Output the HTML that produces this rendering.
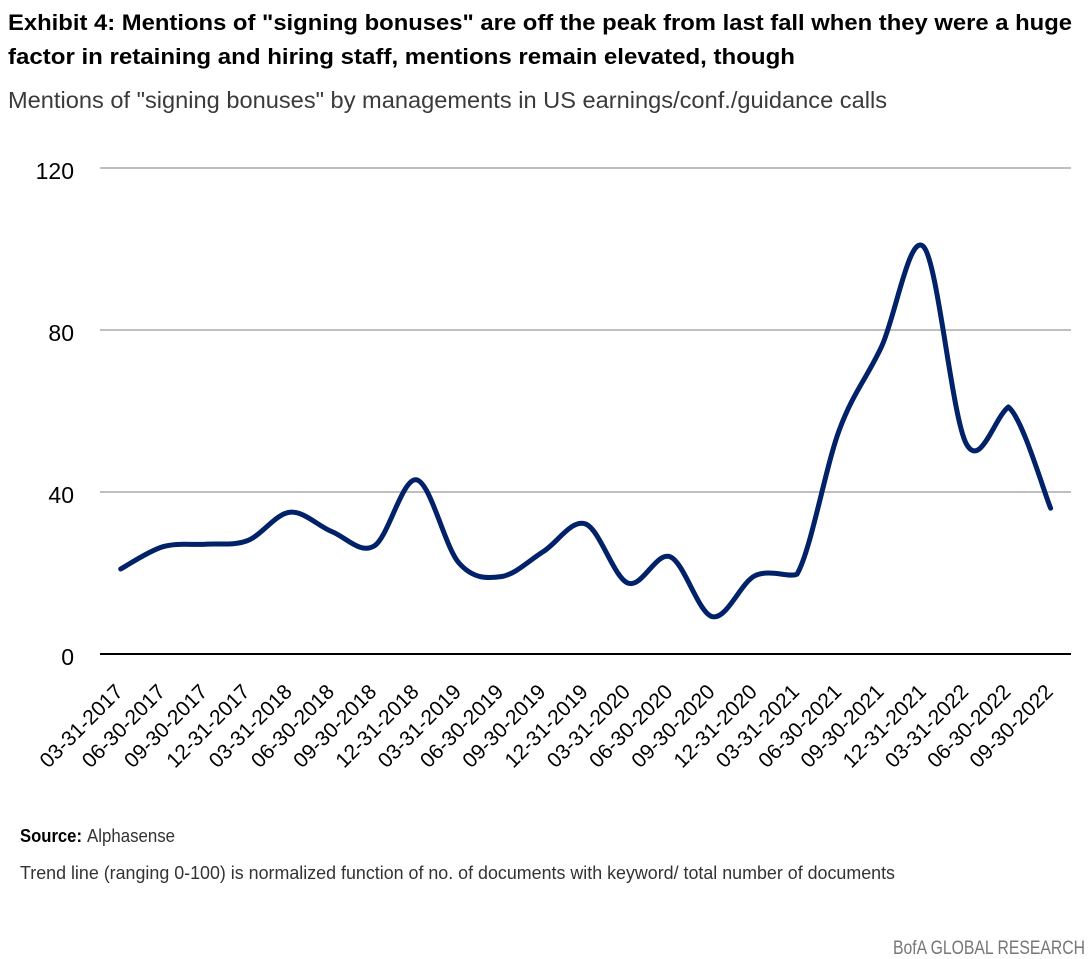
<!DOCTYPE html>
<html>
<head>
<meta charset="utf-8">
<style>
  html, body { margin: 0; padding: 0; background: #ffffff; }
  svg { display: block; }
  text { font-family: "Liberation Sans", Arial, sans-serif; }
</style>
</head>
<body>
<svg width="1090" height="959" viewBox="0 0 1090 959" xmlns="http://www.w3.org/2000/svg">
  <rect x="0" y="0" width="1090" height="959" fill="#ffffff"/>

  <!-- Titles -->
  <text x="8" y="30" font-size="22" font-weight="bold" fill="#000" textLength="1064" lengthAdjust="spacingAndGlyphs">Exhibit 4: Mentions of "signing bonuses" are off the peak from last fall when they were a huge</text>
  <text x="8" y="64" font-size="22" font-weight="bold" fill="#000" textLength="787" lengthAdjust="spacingAndGlyphs">factor in retaining and hiring staff, mentions remain elevated, though</text>
  <text x="8" y="108" font-size="23" fill="#3a3a3a" textLength="879" lengthAdjust="spacingAndGlyphs">Mentions of "signing bonuses" by managements in US earnings/conf./guidance calls</text>

  <!-- Gridlines -->
  <line x1="100" y1="168" x2="1071" y2="168" stroke="#bfbfbf" stroke-width="2"/>
  <line x1="100" y1="330" x2="1071" y2="330" stroke="#bfbfbf" stroke-width="2"/>
  <line x1="100" y1="492" x2="1071" y2="492" stroke="#bfbfbf" stroke-width="2"/>
  <!-- Axis -->
  <line x1="100" y1="654" x2="1071" y2="654" stroke="#000" stroke-width="2"/>

  <!-- Y labels -->
  <g font-size="23" fill="#000" text-anchor="end">
    <text x="74" y="179">120</text>
    <text x="74" y="341">80</text>
    <text x="74" y="503">40</text>
    <text x="74" y="665">0</text>
  </g>

  <!-- Series -->
  <path fill="none" stroke="#012169" stroke-width="5" stroke-linecap="round" stroke-linejoin="round"
    d="M120.7,568.95
       C127.75,565.24 148.88,550.83 162.97,546.7
       C177.06,542.58 191.15,545.22 205.24,544.2
       C219.33,543.18 233.42,545.93 247.51,540.6
       C261.6,535.28 275.69,513.73 289.78,512.25
       C303.87,510.77 317.96,526.09 332.05,531.7
       C346.14,537.31 360.23,554.54 374.32,545.9
       C388.41,537.26 402.5,477.02 416.59,479.85
       C430.68,482.68 444.77,546.78 458.86,562.9
       C472.95,579.03 487.04,578.5 501.13,576.6
       C515.22,574.7 529.31,560.27 543.4,551.5
       C557.49,542.73 571.58,518.73 585.67,524
       C599.76,529.27 613.85,577.63 627.94,583.1
       C642.03,588.57 656.12,551.2 670.21,556.8
       C684.3,562.4 698.39,613.53 712.48,616.7
       C726.57,619.87 740.66,582.88 754.75,575.8
       C768.84,568.72 790,578 797.02,574.2
       C811.11,549.9 825.2,467.93 839.29,430
       C853.38,392.07 867.47,377.1 881.56,346.6
       C895.65,316.1 909.74,230.87 923.83,247
       C937.92,263.13 952.01,416.73 966.1,443.4
       C980.19,470.07 994.28,417.8 1008.37,407
       C1022.46,417.8 1043.6,491.33 1050.64,508.2"/>

  <!-- X labels -->
  <g font-size="21" fill="#000" text-anchor="end">
    <text transform="translate(124.2,693) rotate(-45)">03-31-2017</text>
    <text transform="translate(166.47,693) rotate(-45)">06-30-2017</text>
    <text transform="translate(208.74,693) rotate(-45)">09-30-2017</text>
    <text transform="translate(251.01,693) rotate(-45)">12-31-2017</text>
    <text transform="translate(293.28,693) rotate(-45)">03-31-2018</text>
    <text transform="translate(335.55,693) rotate(-45)">06-30-2018</text>
    <text transform="translate(377.82,693) rotate(-45)">09-30-2018</text>
    <text transform="translate(420.09,693) rotate(-45)">12-31-2018</text>
    <text transform="translate(462.36,693) rotate(-45)">03-31-2019</text>
    <text transform="translate(504.63,693) rotate(-45)">06-30-2019</text>
    <text transform="translate(546.9,693) rotate(-45)">09-30-2019</text>
    <text transform="translate(589.17,693) rotate(-45)">12-31-2019</text>
    <text transform="translate(631.44,693) rotate(-45)">03-31-2020</text>
    <text transform="translate(673.71,693) rotate(-45)">06-30-2020</text>
    <text transform="translate(715.98,693) rotate(-45)">09-30-2020</text>
    <text transform="translate(758.25,693) rotate(-45)">12-31-2020</text>
    <text transform="translate(800.52,693) rotate(-45)">03-31-2021</text>
    <text transform="translate(842.79,693) rotate(-45)">06-30-2021</text>
    <text transform="translate(885.06,693) rotate(-45)">09-30-2021</text>
    <text transform="translate(927.33,693) rotate(-45)">12-31-2021</text>
    <text transform="translate(969.6,693) rotate(-45)">03-31-2022</text>
    <text transform="translate(1011.87,693) rotate(-45)">06-30-2022</text>
    <text transform="translate(1054.14,693) rotate(-45)">09-30-2022</text>
  </g>

  <!-- Footer -->
  <text x="20" y="842" font-size="18" font-weight="bold" fill="#000" textLength="62" lengthAdjust="spacingAndGlyphs">Source:</text>
  <text x="87" y="842" font-size="18" fill="#333" textLength="88" lengthAdjust="spacingAndGlyphs">Alphasense</text>
  <text x="20" y="879" font-size="18" fill="#333" textLength="875" lengthAdjust="spacingAndGlyphs">Trend line (ranging 0-100) is normalized function of no. of documents with keyword/ total number of documents</text>
  <text x="893" y="954" font-size="19" fill="#777" textLength="192" lengthAdjust="spacingAndGlyphs">BofA GLOBAL RESEARCH</text>
</svg>
</body>
</html>
